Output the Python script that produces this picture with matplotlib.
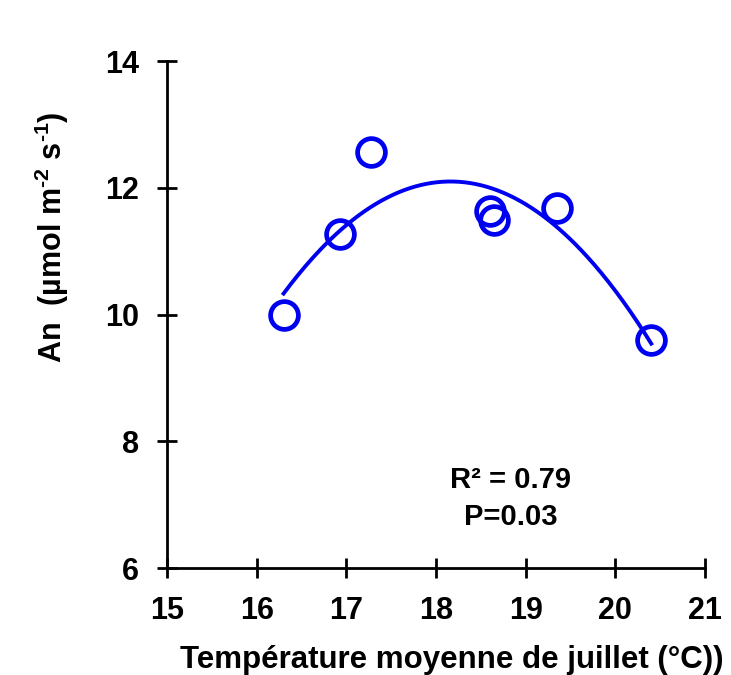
import numpy as np
import matplotlib.pyplot as plt

plt.rcParams['font.family'] = ['Liberation Sans', 'DejaVu Sans']
plt.rcParams['font.weight'] = 'bold'
plt.rcParams['mathtext.fontset'] = 'custom'
plt.rcParams['mathtext.rm'] = 'Liberation Sans:bold'
plt.rcParams['mathtext.bf'] = 'Liberation Sans:bold'
plt.rcParams['mathtext.default'] = 'bf'

# data
temp = [16.30, 16.93, 17.27, 18.60, 18.65, 19.35, 20.40]
an = [10.00, 11.27, 12.57, 11.63, 11.50, 11.68, 9.60]
x_ticks = [15, 16, 17, 18, 19, 20, 21]
y_ticks = [6, 8, 10, 12, 14]

blue = '#0000f0'

fig = plt.figure(figsize=(7.31, 6.75), dpi=100)
ax = fig.add_axes([0.2285, 0.1585, 0.736, 0.751])

# quadratic fit
coef = np.polyfit(temp, an, 2)
xs = np.linspace(min(temp), max(temp), 200)
ax.plot(xs, np.polyval(coef, xs), color=blue, lw=2.8, zorder=2)

ax.plot(temp, an, 'o', ms=20, mfc='none', mec=blue, mew=3.4, zorder=3)

ax.set_xlim(15, 21)
ax.set_ylim(6, 14)
ax.set_xticks(x_ticks)
ax.set_yticks(y_ticks)
for s in ['top', 'right']:
    ax.spines[s].set_visible(False)
for s in ['left', 'bottom']:
    ax.spines[s].set_linewidth(2)
ax.tick_params(direction='inout', length=14, width=2, labelsize=22)
ax.tick_params(axis='x', pad=13)
ax.tick_params(axis='y', pad=13)
for lab in ax.get_xticklabels() + ax.get_yticklabels():
    lab.set_fontweight('bold')

ax.text(0.639, 0.174, 'R² = 0.79', transform=ax.transAxes, ha='center',
        va='center', fontsize=21, fontweight='bold')
ax.text(0.639, 0.10, 'P=0.03', transform=ax.transAxes, ha='center',
        va='center', fontsize=21, fontweight='bold')

fig.text(0.618, 0.0104, 'Température moyenne de juillet (°C))', ha='center',
         va='baseline', fontsize=22.5, fontweight='bold')
fig.text(0.071, 0.649, 'An  (µmol m$^{\u20102}$ s$^{\u20101}$)', rotation=90,
         ha='center', va='center', fontsize=22, fontweight='bold')

fig.savefig('out.png', dpi=100)
